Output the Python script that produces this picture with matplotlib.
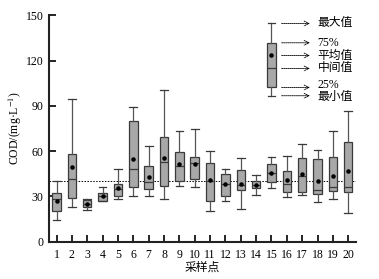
import matplotlib
matplotlib.use("Agg")
import matplotlib.pyplot as plt

# --- DATA ---
sites = list(range(1, 21))
whislo = [14.2, 23.2, 21.0, 27.0, 28.0, 30.3, 30.3, 28.5, 37.1, 36.2,
          20.1, 27.2, 21.5, 30.9, 35.4, 29.8, 30.9, 26.1, 28.1, 18.8]
q1 = [20.5, 28.7, 22.8, 27.2, 30.5, 36.0, 34.7, 37.1, 40.4, 41.3,
      27.2, 30.0, 34.0, 35.4, 39.3, 32.7, 33.1, 31.4, 33.8, 32.7]
med = [28.0, 41.3, 25.0, 30.3, 35.0, 47.9, 39.7, 52.6, 50.1, 51.9,
       40.4, 38.0, 37.3, 37.3, 45.3, 38.0, 43.7, 34.2, 36.0, 36.0]
q3 = [32.0, 58.3, 27.6, 32.5, 38.0, 80.1, 50.1, 69.1, 59.2, 56.3,
      51.9, 45.0, 47.3, 40.2, 51.3, 46.8, 55.2, 54.6, 55.9, 66.0]
whishi = [40.4, 94.5, 28.1, 36.4, 47.9, 89.4, 63.2, 100.5, 73.5, 74.4,
          60.3, 47.9, 55.6, 44.2, 55.9, 56.5, 64.5, 60.9, 73.1, 86.8]
means = [27.0, 49.7, 24.8, 30.5, 35.4, 54.6, 43.0, 55.2, 51.5, 51.3,
         40.9, 38.0, 38.2, 37.3, 45.3, 41.1, 44.8, 40.4, 43.7, 47.0]
ref_level = 40

# legend example box
key_pos = 15
key_stats = [96.7, 102.2, 114.8, 131.8, 144.6]  # min, q1, median, q3, max
key_mean = 123.4
key_labels = ["最大值", "75%", "平均值", "中间值", "25%", "最小值"]
key_values = [144.6, 131.8, 123.4, 114.8, 102.2, 96.7]

# --- STYLE ---
plt.rcParams["font.family"] = ["Liberation Serif", "Noto Sans CJK SC"]
plt.rcParams["mathtext.fontset"] = "stix"
plt.rcParams["font.size"] = 8.5

fig = plt.figure(figsize=(3.79, 2.79), dpi=100)
ax = fig.add_axes([0.129, 0.134, 0.81, 0.811])

boxcolor = "#a8a8a8"
edge = "#3a3a3a"
stats = []
for i in range(len(sites)):
    stats.append(dict(whislo=whislo[i], q1=q1[i], med=med[i], q3=q3[i],
                      whishi=whishi[i], fliers=[]))
stats.append(dict(whislo=key_stats[0], q1=key_stats[1], med=key_stats[2],
                  q3=key_stats[3], whishi=key_stats[4], fliers=[]))
positions = sites + [key_pos]

ax.bxp(stats, positions=positions, widths=0.55, patch_artist=True,
       showfliers=False,
       boxprops=dict(facecolor=boxcolor, edgecolor=edge, linewidth=0.9),
       medianprops=dict(color=edge, linewidth=0.9),
       whiskerprops=dict(color="#555555", linewidth=0.9),
       capprops=dict(color=edge, linewidth=0.9), capwidths=0.5)

ax.scatter(sites + [key_pos], means + [key_mean], s=5, color="black", zorder=5)

ax.axhline(ref_level, color="black", linestyle=(0, (1.5, 1.5)), linewidth=0.7, zorder=1)

# key annotations
for lab, v in zip(key_labels, key_values):
    dy = 0
    if lab == "25%":
        dy = 1.5
    elif lab == "最小值":
        dy = -1.0
    ax.annotate("", xy=(17.5, v), xytext=(15.66, v),
                arrowprops=dict(arrowstyle="->", linestyle=(0, (1.5, 1)),
                                color="black", linewidth=0.6,
                                shrinkA=0, shrinkB=0))
    ax.text(18.0, v + dy, lab, va="center", ha="left", fontsize=8.5)

ax.set_xlim(0.5, 20.5)
ax.set_ylim(0, 150)
ax.set_xticks(sites)
ax.set_xticklabels([str(s) for s in sites])
ax.set_yticks([0, 30, 60, 90, 120, 150])
ax.tick_params(direction="in", length=5, width=1.2, colors="black", pad=4)
ax.tick_params(axis="x", pad=5)
for s in ["top", "right"]:
    ax.spines[s].set_visible(False)
for s in ["left", "bottom"]:
    ax.spines[s].set_linewidth(1.5)
    ax.spines[s].set_color("#222222")

ax.set_ylabel("COD/(mg·L$^{-1}$)", labelpad=1)
ax.set_xlabel("采样点", labelpad=1)

fig.savefig("out.png", dpi=100)
